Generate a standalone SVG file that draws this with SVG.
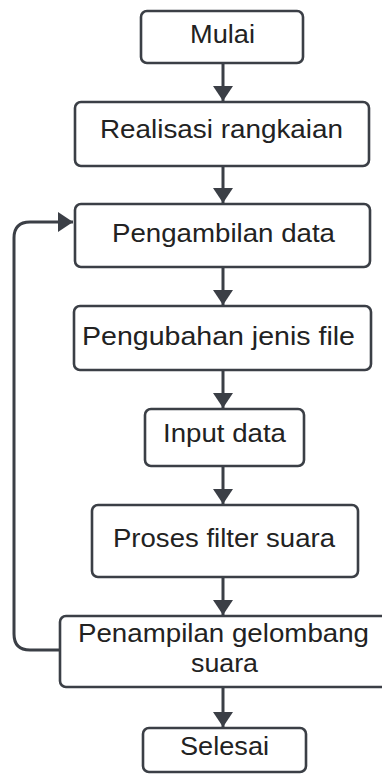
<svg xmlns="http://www.w3.org/2000/svg" width="382" height="774" viewBox="0 0 382 774">
<defs>
<style>
.box{fill:#ffffff;stroke:#3b3f46;stroke-width:2.6}
.lbl{font-family:"Liberation Sans",Arial,sans-serif;font-size:25px;fill:#222222;text-anchor:middle}
.con{fill:none;stroke:#3b3f46;stroke-width:3}
</style>
<marker id="arr" markerUnits="userSpaceOnUse" markerWidth="16" markerHeight="22" refX="15" refY="10" orient="auto" viewBox="0 0 16 20">
<path d="M0,0 L15,10 L0,20 Z" fill="#3b3f46"/>
</marker>
</defs>
<rect width="382" height="774" fill="#ffffff"/>
<g id="connectors">
<line class="con" x1="223" y1="63" x2="223" y2="101" marker-end="url(#arr)"/>
<line class="con" x1="223" y1="166" x2="223" y2="203" marker-end="url(#arr)"/>
<line class="con" x1="223" y1="267" x2="223" y2="305" marker-end="url(#arr)"/>
<line class="con" x1="223" y1="370" x2="223" y2="408" marker-end="url(#arr)"/>
<line class="con" x1="223" y1="466" x2="223" y2="504" marker-end="url(#arr)"/>
<line class="con" x1="223" y1="577" x2="223" y2="615" marker-end="url(#arr)"/>
<line class="con" x1="223" y1="687" x2="223" y2="727" marker-end="url(#arr)"/>
<path class="con" d="M60,650 L30,650 Q14,650 14,634 L14,238 Q14,222 30,222 L73,222" marker-end="url(#arr)"/>
</g>
<g id="mulai">
<rect class="box" x="141" y="11" width="162" height="52" rx="6"/>
<text class="lbl" x="222.5" y="43" textLength="65" lengthAdjust="spacingAndGlyphs">Mulai</text>
</g>
<g id="realisasi">
<rect class="box" x="75" y="102" width="294" height="64" rx="6"/>
<text class="lbl" x="221.5" y="138" textLength="243" lengthAdjust="spacingAndGlyphs">Realisasi rangkaian</text>
</g>
<g id="pengambilan">
<rect class="box" x="75" y="204" width="295" height="63" rx="6"/>
<text class="lbl" x="223.5" y="242" textLength="223" lengthAdjust="spacingAndGlyphs">Pengambilan data</text>
</g>
<g id="pengubahan">
<rect class="box" x="74" y="306" width="297" height="64" rx="6"/>
<text class="lbl" x="218.5" y="345" textLength="273" lengthAdjust="spacingAndGlyphs">Pengubahan jenis file</text>
</g>
<g id="input">
<rect class="box" x="145" y="409" width="159" height="57" rx="6"/>
<text class="lbl" x="224.5" y="442" textLength="123" lengthAdjust="spacingAndGlyphs">Input data</text>
</g>
<g id="proses">
<rect class="box" x="92" y="505" width="266" height="72" rx="6"/>
<text class="lbl" x="224" y="547" textLength="222" lengthAdjust="spacingAndGlyphs">Proses filter suara</text>
</g>
<g id="penampilan">
<rect class="box" x="60" y="616" width="340" height="71" rx="6"/>
<text class="lbl" x="223.5" y="642" textLength="291" lengthAdjust="spacingAndGlyphs">Penampilan gelombang</text>
<text class="lbl" x="224.5" y="672" textLength="67" lengthAdjust="spacingAndGlyphs">suara</text>
</g>
<g id="selesai">
<rect class="box" x="143" y="728" width="163" height="44" rx="6"/>
<text class="lbl" x="224.5" y="755" textLength="89" lengthAdjust="spacingAndGlyphs">Selesai</text>
</g>
</svg>
